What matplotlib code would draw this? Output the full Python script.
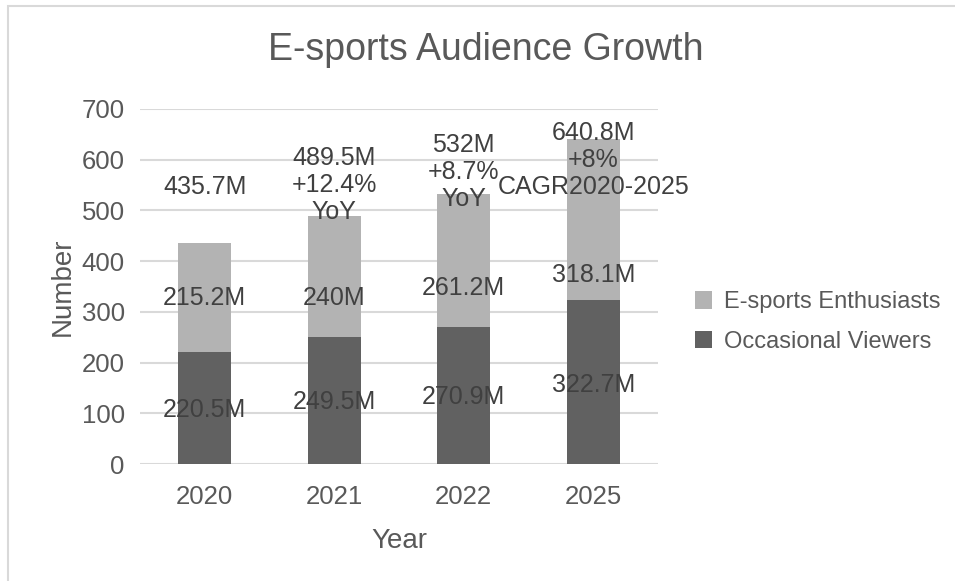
import matplotlib
matplotlib.use("Agg")
import matplotlib.pyplot as plt
from matplotlib.patches import Rectangle
import numpy as np

plt.rcParams['font.family'] = ['Liberation Sans', 'DejaVu Sans']

years = ["2020", "2021", "2022", "2025"]
occasional = [220.5, 249.5, 270.9, 322.7]
enthusiasts = [215.2, 240.0, 261.2, 318.1]
totals = [435.7, 489.5, 532.0, 640.8]
growth_notes = ["", "+12.4%\nYoY", "+8.7%\nYoY", "+8%\nCAGR2020-2025"]

# where the labels sit (data units), nudged by hand so they don't collide
occ_label_y = [107, 122, 132, 156]
ent_label_y = [327, 327, 347, 373]
total_label_y = [546, 550, 576, 600]

TEXT = "#595959"
LABEL = "#404040"
LIGHT = "#b3b3b3"
DARK = "#616161"
GRID = "#d9d9d9"

fig = plt.figure(figsize=(9.55, 5.81), dpi=100)
fig.patches.append(Rectangle((8 / 955, -0.1), 1.2, 1 - 6 / 581 + 0.1,
                             transform=fig.transFigure, fill=False,
                             edgecolor="#d9d9d9", linewidth=1.5))

ax = fig.add_axes([140 / 955, 1 - 464 / 581, 518 / 955, 355 / 581])
x = np.arange(len(years))
w = 0.41

ax.bar(x, occasional, w, color=DARK, label="Occasional Viewers", zorder=3)
ax.bar(x, enthusiasts, w, bottom=occasional, color=LIGHT,
       label="E-sports Enthusiasts", zorder=3)

for i in range(len(years)):
    ax.text(x[i], occ_label_y[i], f"{occasional[i]:g}M", ha="center",
            va="center", fontsize=18, color=LABEL, zorder=4)
    ax.text(x[i], ent_label_y[i], f"{enthusiasts[i]:g}M", ha="center",
            va="center", fontsize=18, color=LABEL, zorder=4)
    top = f"{totals[i]:g}M"
    if growth_notes[i]:
        top += "\n" + growth_notes[i]
    ax.text(x[i], total_label_y[i], top, ha="center", va="center",
            fontsize=18, color=LABEL, linespacing=1.15, zorder=4)

ax.set_xlim(-0.5, len(years) - 0.5)
ax.set_ylim(0, 700)
ax.set_yticks(range(0, 701, 100))
ax.set_xticks(x)
ax.set_xticklabels(years)
ax.tick_params(length=0, labelsize=18.5, labelcolor=TEXT, pad=15)
ax.tick_params(axis="y", pad=11)
ax.yaxis.grid(True, color=GRID, linewidth=1.5, zorder=0)
ax.set_axisbelow(True)
for s in ax.spines.values():
    s.set_visible(False)

ax.set_xlabel("Year", fontsize=20, color=TEXT, labelpad=14)
ax.set_ylabel("Number", fontsize=20, color=TEXT, labelpad=4)
fig.text(486 / 955, 1 - 50 / 581, "E-sports Audience Growth", ha="center",
         va="center", fontsize=27, color=TEXT)

handles, labels = ax.get_legend_handles_labels()
ax.legend(handles[::-1], labels[::-1], loc="center left",
          bbox_to_anchor=(1.03, 0.40), frameon=False, fontsize=17,
          labelcolor=TEXT, handlelength=0.75, handleheight=0.75,
          handletextpad=0.5, labelspacing=0.75)

fig.savefig("out.png", dpi=100, facecolor="white")
